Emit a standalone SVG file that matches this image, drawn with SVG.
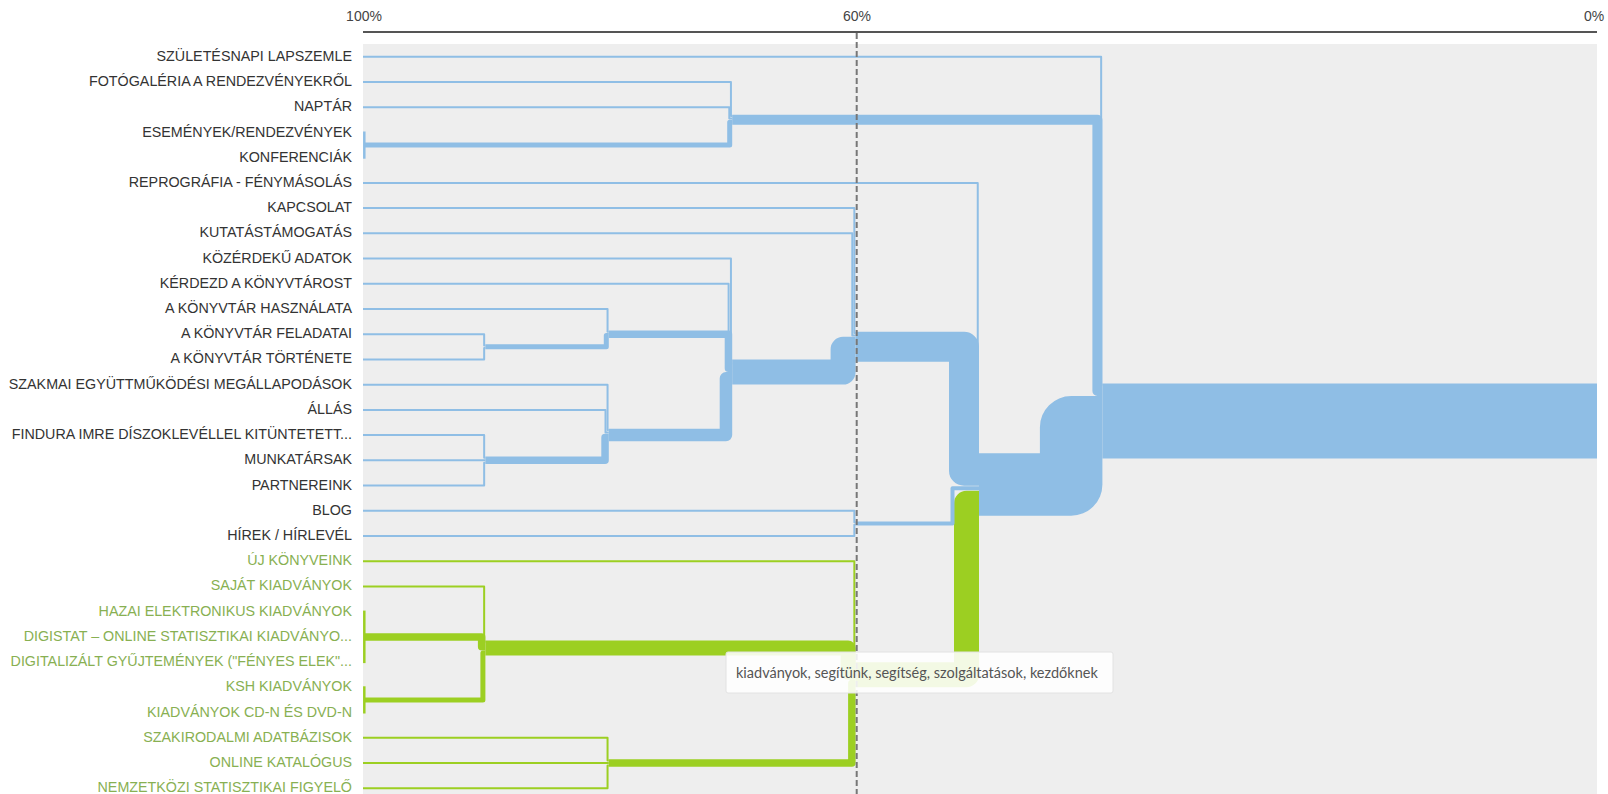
<svg xmlns="http://www.w3.org/2000/svg" width="1608" height="794" viewBox="0 0 1608 794">
<style>
.lbl{font-family:"Liberation Sans",Arial,sans-serif;font-size:14.3px;text-anchor:end;fill:#333}
.lg{fill:#88b052}
.ax{font-family:"Liberation Sans",Arial,sans-serif;font-size:14px;text-anchor:middle;fill:#444}
.b{fill:none;stroke:#8fbee5;stroke-linejoin:round}
.g{fill:none;stroke:#9ccf22;stroke-linejoin:round}
.w2{stroke-width:2}
</style>
<rect x="0" y="0" width="1608" height="794" fill="#ffffff"/>
<rect x="363" y="44" width="1234" height="750" fill="#eeeeee"/>
<g id="axis">
<line x1="363" y1="32" x2="1597" y2="32" stroke="#555" stroke-width="2"/>
<text class="ax" x="364" y="21">100%</text>
<text class="ax" x="857" y="21">60%</text>
<text class="ax" x="1594" y="21">0%</text>
</g>
<g id="labels">
<text class="lbl" x="352" y="60.8">SZÜLETÉSNAPI LAPSZEMLE</text>
<text class="lbl" x="352" y="86">FOTÓGALÉRIA A RENDEZVÉNYEKRŐL</text>
<text class="lbl" x="352" y="111.2">NAPTÁR</text>
<text class="lbl" x="352" y="136.5">ESEMÉNYEK/RENDEZVÉNYEK</text>
<text class="lbl" x="352" y="161.7">KONFERENCIÁK</text>
<text class="lbl" x="352" y="186.9">REPROGRÁFIA - FÉNYMÁSOLÁS</text>
<text class="lbl" x="352" y="212.1">KAPCSOLAT</text>
<text class="lbl" x="352" y="237.3">KUTATÁSTÁMOGATÁS</text>
<text class="lbl" x="352" y="262.6">KÖZÉRDEKŰ ADATOK</text>
<text class="lbl" x="352" y="287.8">KÉRDEZD A KÖNYVTÁROST</text>
<text class="lbl" x="352" y="313">A KÖNYVTÁR HASZNÁLATA</text>
<text class="lbl" x="352" y="338.2">A KÖNYVTÁR FELADATAI</text>
<text class="lbl" x="352" y="363.4">A KÖNYVTÁR TÖRTÉNETE</text>
<text class="lbl" x="352" y="388.7">SZAKMAI EGYÜTTMŰKÖDÉSI MEGÁLLAPODÁSOK</text>
<text class="lbl" x="352" y="413.9">ÁLLÁS</text>
<text class="lbl" x="352" y="439.1">FINDURA IMRE DÍSZOKLEVÉLLEL KITÜNTETETT...</text>
<text class="lbl" x="352" y="464.3">MUNKATÁRSAK</text>
<text class="lbl" x="352" y="489.5">PARTNEREINK</text>
<text class="lbl" x="352" y="514.8">BLOG</text>
<text class="lbl" x="352" y="540">HÍREK / HÍRLEVÉL</text>
<text class="lbl lg" x="352" y="565.2">ÚJ KÖNYVEINK</text>
<text class="lbl lg" x="352" y="590.4">SAJÁT KIADVÁNYOK</text>
<text class="lbl lg" x="352" y="615.6">HAZAI ELEKTRONIKUS KIADVÁNYOK</text>
<text class="lbl lg" x="352" y="640.9">DIGISTAT – ONLINE STATISZTIKAI KIADVÁNYO...</text>
<text class="lbl lg" x="352" y="666.1">DIGITALIZÁLT GYŰJTEMÉNYEK ("FÉNYES ELEK"...</text>
<text class="lbl lg" x="352" y="691.3">KSH KIADVÁNYOK</text>
<text class="lbl lg" x="352" y="716.5">KIADVÁNYOK CD-N ÉS DVD-N</text>
<text class="lbl lg" x="352" y="741.7">SZAKIRODALMI ADATBÁZISOK</text>
<text class="lbl lg" x="352" y="767">ONLINE KATALÓGUS</text>
<text class="lbl lg" x="352" y="792.2">NEMZETKÖZI STATISZTIKAI FIGYELŐ</text>
</g>
<g id="connectors">
<!-- root band -->
<rect x="1102.4" y="383.5" width="494.6" height="75" fill="#8fbee5"/>
<!-- green -->
<path class="g" stroke-width="25" d="M855.6,674.7 H966.5 V503.25 H979"/>
<path class="g" stroke-width="15" d="M485.4,648 H848.1 V672.2 H855.6"/>
<path class="g" stroke-width="7.5" d="M608.8,763 H851.85 V683.45 H855.6"/>
<path class="g w2" d="M363,561.2 H854.35 V663.45 H855.6"/>
<path class="g w2" d="M363,586.4 H484.15 V641.75 H485.4"/>
<path class="g" stroke-width="7.5" d="M364,636.9 H481.65 V646.75 H485.4"/>
<path class="g" stroke-width="5" d="M364,699.9 H482.9 V653 H485.4"/>
<line class="g" stroke-width="2.5" x1="364.3" y1="610.6" x2="364.3" y2="663.1"/>
<line class="g" stroke-width="2.5" x1="364.3" y1="686.3" x2="364.3" y2="713.5"/>
<path class="g w2" d="M363,737.7 H607.55 V760.5 H608.8"/>
<path class="g w2" d="M363,763 H608.8"/>
<path class="g w2" d="M363,788.2 H607.55 V765.5 H608.8"/>
<!-- blue top -->
<path class="b" stroke-width="62.5" d="M979,484.5 H1071.15 V427.25 H1102.4"/>
<path class="b" stroke-width="10" d="M732.2,119.85 H1097.4 V391 H1102.4"/>
<path class="b w2" d="M363,56.8 H1101.15 V384.75 H1102.4"/>
<path class="b" stroke-width="5" d="M364,145.1 H729.7 V122.35 H732.2"/>
<path class="b w2" d="M363,82 H730.95 V116.1 H732.2"/>
<path class="b w2" d="M363,107.2 H729.3 V118.6 H732.2"/>
<line class="b" stroke-width="2.5" x1="364.3" y1="131.5" x2="364.3" y2="158.7"/>
<!-- blue middle -->
<path class="b w2" d="M363,182.9 H977.75 V454.5 H979"/>
<path class="b" stroke-width="30" d="M855.6,346.8 H964 V470.75 H979"/>
<path class="b" stroke-width="4" d="M855.6,523.4 H952.5 V488.25 H979"/>
<path class="b w2" d="M363,510.8 H854.35 V522.15 H855.6"/>
<path class="b w2" d="M363,536 H854.35 V524.65 H855.6"/>
<path class="b w2" d="M363,208.1 H854.35 V333.05 H855.6"/>
<path class="b w2" d="M363,233.3 H852.3 V335.55 H855.6"/>
<path class="b" stroke-width="25" d="M732.2,372.05 H843.1 V349.3 H855.6"/>
<path class="b w2" d="M363,258.6 H730.95 V360.8 H732.2"/>
<path class="b w2" d="M363,283.8 H728.6 V363.3 H732.2"/>
<path class="b" stroke-width="7.5" d="M608.8,334.2 H728.45 V368.3 H732.2"/>
<path class="b" stroke-width="12.5" d="M608.8,435.1 H725.95 V378.3 H732.2"/>
<path class="b w2" d="M363,309 H607.55 V331.7 H608.8"/>
<path class="b" stroke-width="5" d="M485.4,346.8 H606.3 V335.45 H608.8"/>
<path class="b w2" d="M363,334.2 H484.15 V345.55 H485.4"/>
<path class="b w2" d="M363,359.4 H484.15 V348.05 H485.4"/>
<path class="b w2" d="M363,384.7 H607.55 V430.1 H608.8"/>
<path class="b w2" d="M363,409.9 H605.5 V432.6 H608.8"/>
<path class="b" stroke-width="7.5" d="M485.4,460.3 H605.05 V437.6 H608.8"/>
<path class="b w2" d="M363,435.1 H484.15 V457.8 H485.4"/>
<path class="b w2" d="M363,460.3 H485.4"/>
<path class="b w2" d="M363,485.5 H484.15 V462.8 H485.4"/>
</g>
<line id="threshold" x1="856.7" y1="33" x2="856.7" y2="794" stroke="#777" stroke-width="2" stroke-dasharray="6,3"/>
<g id="tooltip">
<rect x="726" y="652" width="387" height="41" rx="2" fill="#ffffff" fill-opacity="0.88" stroke="#e2e2e2" stroke-width="1"/>
<text x="736" y="677.5" font-family="Lato,'Open Sans',sans-serif" font-size="14.5" fill="#555">kiadványok, segítünk, segítség, szolgáltatások, kezdőknek</text>
</g>
</svg>
